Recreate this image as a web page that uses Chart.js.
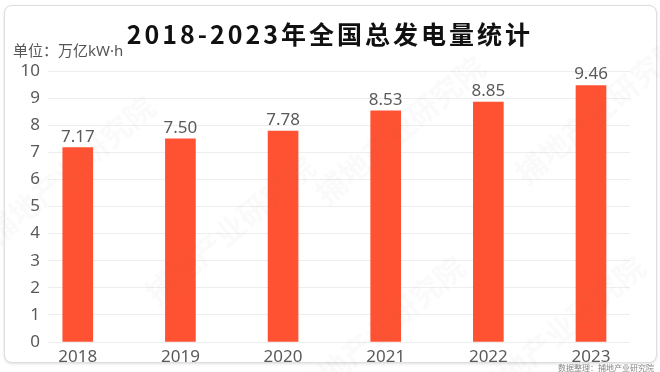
<!DOCTYPE html>
<html>
<head>
<meta charset="utf-8">
<script src="https://cdn.jsdelivr.net/npm/chart.js@4.4.0/dist/chart.umd.min.js"></script>
<style>
  body { margin: 0; background: #fff; font-family: "Noto Sans", "Noto Sans CJK SC", sans-serif; }
  #wrap { position: relative; width: 660px; height: 372px; overflow: hidden; }
  #card { position: absolute; left: 4px; top: 5px; width: 651px; height: 356px;
          border: 1px solid #dedede; border-radius: 8px; box-shadow: 0 1px 3px rgba(0,0,0,0.12); background: #fff; }
  #title { position: absolute; left: 0; width: 660px; top: 15px; text-align: center;
           font: bold 25px "Noto Sans CJK SC", sans-serif; letter-spacing: 3px; color: #111; }
  #unit { position: absolute; left: 13px; top: 39px; font: 15px "Noto Sans", "Noto Sans CJK SC", sans-serif; color: #555; }
  #credit { position: absolute; right: 6px; top: 362px; font: 8px "Noto Sans CJK SC", sans-serif; color: #888; }
  canvas { position: absolute; left: 0; top: 0; }
</style>
</head>
<body>
<div id="wrap">
  <div id="card"></div>
  <canvas id="bar-chart" width="660" height="372"></canvas>
  <div id="title">2018-2023年全国总发电量统计</div>
  <div id="unit">单位：万亿kW·h</div>
  <div id="credit">数据整理：捕地产业研究院</div>
</div>
<script>
const years = ['2018', '2019', '2020', '2021', '2022', '2023'];
const output = [7.17, 7.50, 7.78, 8.53, 8.85, 9.46];
const yTicks = [0, 1, 2, 3, 4, 5, 6, 7, 8, 9, 10];

const points = years.map((y, i) => ({ x: i, y: output[i] }));

// value labels above the bars
const valueLabels = {
  id: 'valueLabels',
  afterDatasetsDraw(chart) {
    const ctx = chart.ctx;
    ctx.save();
    ctx.font = '17px "Noto Sans", sans-serif';
    ctx.fillStyle = '#5a5a5a';
    ctx.textAlign = 'center';
    ctx.textBaseline = 'middle';
    chart.getDatasetMeta(0).data.forEach((bar, i) => {
      ctx.fillText(output[i].toFixed(2), bar.x, bar.y - 11);
    });
    ctx.restore();
  }
};

// faint diagonal watermark
const watermark = {
  id: 'watermark',
  afterDraw(chart) {
    const ctx = chart.ctx;
    ctx.save();
    ctx.font = 'bold 30px "Noto Sans CJK SC", sans-serif';
    ctx.fillStyle = 'rgba(120,120,120,0.035)';
    ctx.textAlign = 'center';
    ctx.textBaseline = 'middle';
    [[70, 170], [230, 230], [400, 130], [600, 110], [560, 330], [380, 330]].forEach(p => {
      ctx.save();
      ctx.translate(p[0], p[1]);
      ctx.rotate(-0.7);
      ctx.fillText('捕地产业研究院', 0, 0);
      ctx.restore();
    });
    ctx.restore();
  }
};

new Chart(document.getElementById('bar-chart'), {
  type: 'bar',
  data: {
    datasets: [{
      data: points,
      backgroundColor: '#ff5232',
      barThickness: 30
    }]
  },
  options: {
    responsive: false,
    animation: false,
    layout: { padding: { top: 71, right: 30, left: 0, bottom: 0 } },
    plugins: { legend: { display: false }, tooltip: { enabled: false } },
    scales: {
      x: {
        type: 'linear',
        offset: false,
        min: -0.29,
        max: 5.38,
        grid: { display: false, offset: false },
        border: { display: false },
        afterBuildTicks: s => { s.ticks = years.map((y, i) => ({ value: i })); },
        afterFit: s => { s.height = 30; },
        ticks: {
          callback: v => years[v],
          color: '#5a5a5a',
          font: { size: 17, family: '"Noto Sans", sans-serif' },
          padding: -3,
          maxRotation: 0
        }
      },
      y: {
        min: 0,
        max: 10,
        afterBuildTicks: s => { s.ticks = yTicks.map(v => ({ value: v })); },
        afterFit: s => { s.width = 48; },
        grid: { color: '#eeeeee', drawTicks: false },
        border: { display: false },
        ticks: {
          color: '#5a5a5a',
          font: { size: 17, family: '"Noto Sans", sans-serif' },
          padding: 8
        }
      }
    }
  },
  plugins: [valueLabels, watermark]
});
</script>
</body>
</html>
